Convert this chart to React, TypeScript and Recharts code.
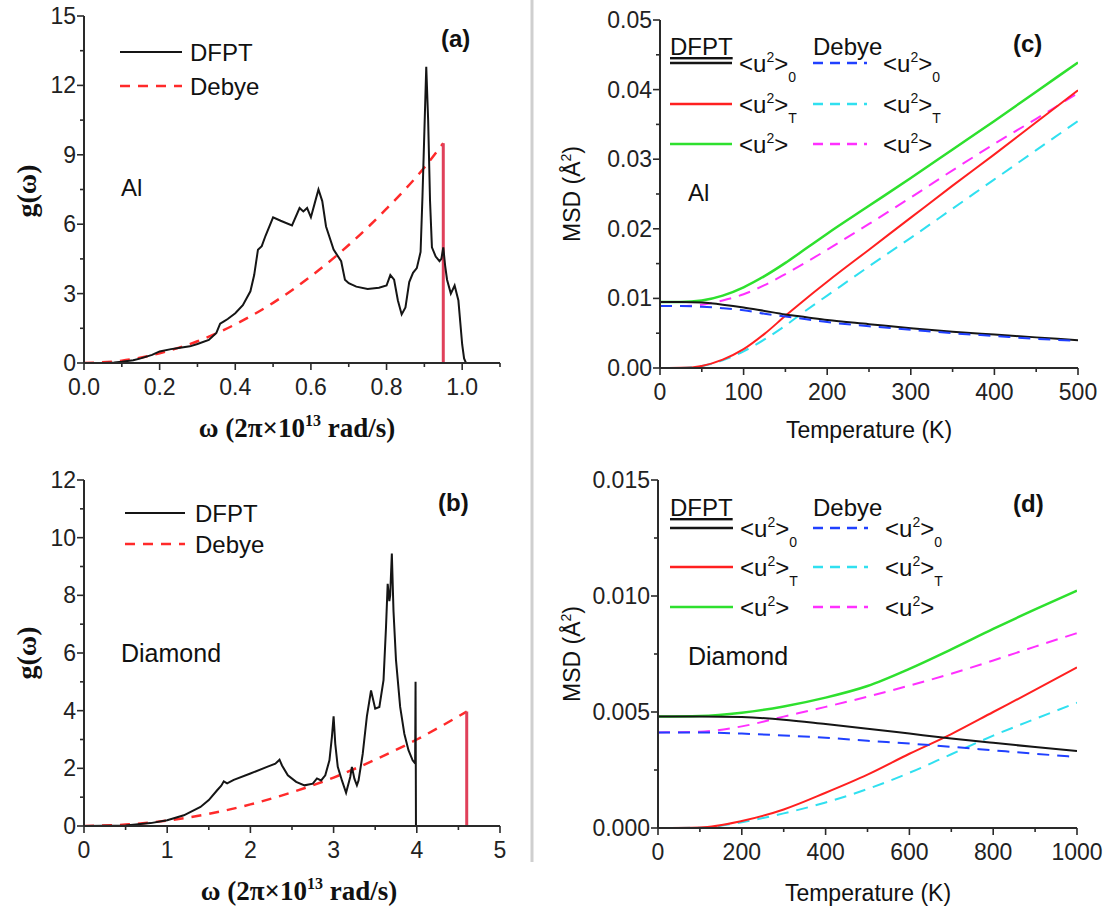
import React from 'react';
import { LineChart, Line, XAxis, YAxis } from 'recharts';

const SANS = "'Liberation Sans', Arial, Helvetica, sans-serif";
const SERIF = "'Liberation Serif', 'Times New Roman', serif";
const AXIS = '#2a2a2a';

// ---------- Panel (a): Al phonon DOS ----------
const aDfptW = [0, 0.05, 0.08, 0.1, 0.13, 0.15, 0.18, 0.2, 0.23, 0.25, 0.28, 0.3, 0.33, 0.35, 0.36, 0.37, 0.38, 0.4, 0.42, 0.44, 0.45, 0.46, 0.47, 0.48, 0.5, 0.52, 0.55, 0.57, 0.58, 0.59, 0.6, 0.61, 0.62, 0.63, 0.64, 0.66, 0.68, 0.69, 0.7, 0.72, 0.75, 0.78, 0.8, 0.81, 0.82, 0.83, 0.84, 0.85, 0.86, 0.87, 0.88, 0.89, 0.895, 0.9, 0.905, 0.91, 0.915, 0.92, 0.93, 0.94, 0.945, 0.95, 0.955, 0.96, 0.97, 0.98, 0.99, 1.0, 1.005, 1.01];
const aDfptG = [0, 0, 0.02, 0.05, 0.12, 0.2, 0.35, 0.5, 0.6, 0.65, 0.72, 0.82, 1.0, 1.3, 1.7, 1.8, 1.9, 2.15, 2.5, 3.1, 3.8, 4.9, 5.05, 5.5, 6.3, 6.15, 5.95, 6.7, 6.55, 6.7, 6.3, 6.9, 7.5, 7.0, 5.9, 4.9, 4.4, 3.6, 3.45, 3.3, 3.2, 3.25, 3.35, 3.8, 3.6, 2.7, 2.1, 2.4, 3.5, 3.9, 4.1, 4.8, 7.2, 10.0, 12.8, 10.5, 7.0, 5.0, 4.6, 4.4, 4.5, 5.0, 4.2, 3.6, 3.0, 3.35, 2.7, 0.8, 0.2, 0];
const aDebyeW = [0, 0.1, 0.2, 0.3, 0.4, 0.5, 0.6, 0.7, 0.8, 0.9, 0.95];
const aDebyeG = [0, 0.1, 0.42, 0.94, 1.67, 2.6, 3.75, 5.1, 6.67, 8.45, 9.5];
const aCutW = [0.95, 0.95];
const aCutG = [9.5, 0];
const aXMajors = [0, 0.2, 0.4, 0.6, 0.8, 1.0];
const aXMinors = [0.1, 0.3, 0.5, 0.7, 0.9, 1.1];
const aXLabels = ['0.0', '0.2', '0.4', '0.6', '0.8', '1.0'];
const aYMajors = [0, 3, 6, 9, 12, 15];
const aYMinors = [1.5, 4.5, 7.5, 10.5, 13.5];
const aYLabels = ['0', '3', '6', '9', '12', '15'];

// ---------- Panel (b): Diamond phonon DOS ----------
const bDfptW = [0, 0.5, 0.8, 1.0, 1.2, 1.4, 1.5, 1.6, 1.65, 1.68, 1.72, 1.8, 2.0, 2.2, 2.3, 2.35, 2.38, 2.45, 2.55, 2.65, 2.75, 2.8, 2.85, 2.9, 2.95, 2.98, 3.0, 3.02, 3.05, 3.1, 3.15, 3.2, 3.22, 3.25, 3.28, 3.3, 3.35, 3.4, 3.45, 3.5, 3.55, 3.6, 3.63, 3.65, 3.67, 3.68, 3.7, 3.72, 3.75, 3.8, 3.85, 3.9, 3.95, 3.98, 3.985, 3.99];
const bDfptG = [0, 0.02, 0.1, 0.2, 0.37, 0.66, 0.9, 1.24, 1.4, 1.55, 1.48, 1.6, 1.82, 2.05, 2.16, 2.3, 2.1, 1.76, 1.53, 1.41, 1.47, 1.65, 1.58, 1.76, 2.28, 3.1, 3.8, 2.85, 2.05, 1.58, 1.15, 1.7, 2.05, 1.64, 1.41, 1.58, 2.5, 3.8, 4.7, 4.07, 4.13, 5.06, 6.9, 8.4, 7.8, 8.0, 9.45, 7.45, 5.75, 4.13, 3.2, 2.63, 2.28, 2.17, 5.0, 0];
const bDebyeW = [0, 0.5, 1, 1.5, 2, 2.5, 3, 3.5, 4, 4.6];
const bDebyeG = [0, 0.05, 0.19, 0.42, 0.75, 1.17, 1.68, 2.3, 3.0, 3.97];
const bCutW = [4.6, 4.6];
const bCutG = [3.97, 0];
const bXMajors = [0, 1, 2, 3, 4, 5];
const bXMinors = [0.5, 1.5, 2.5, 3.5, 4.5];
const bXLabels = ['0', '1', '2', '3', '4', '5'];
const bYMajors = [0, 2, 4, 6, 8, 10, 12];
const bYMinors = [1, 3, 5, 7, 9, 11];
const bYLabels = ['0', '2', '4', '6', '8', '10', '12'];

// ---------- Panel (c): Al MSD ----------
const cTemp = [0, 25, 50, 75, 100, 125, 150, 175, 200, 250, 300, 350, 400, 450, 500];
const cDfptU0 = [0.0095, 0.0095, 0.0094, 0.0091, 0.0087, 0.0082, 0.0077, 0.0073, 0.0069, 0.0063, 0.0057, 0.0052, 0.0048, 0.0044, 0.004];
const cDfptUT = [0, 0.00002, 0.0003, 0.0012, 0.0027, 0.0049, 0.0075, 0.01, 0.0124, 0.017, 0.0216, 0.0262, 0.0307, 0.0353, 0.0399];
const cDfptU = [0.0095, 0.0095, 0.0097, 0.0104, 0.0116, 0.0132, 0.0151, 0.0172, 0.0193, 0.0233, 0.0273, 0.0314, 0.0355, 0.0397, 0.0439];
const cDebyeU0 = [0.0089, 0.0089, 0.0088, 0.0086, 0.0083, 0.0078, 0.0074, 0.007, 0.0066, 0.006, 0.0055, 0.005, 0.0046, 0.0042, 0.0039];
const cDebyeUT = [0, 0, 0.0003, 0.0011, 0.0024, 0.0041, 0.0061, 0.0083, 0.0104, 0.0146, 0.0187, 0.0229, 0.0271, 0.0313, 0.0355];
const cDebyeU = [0.0089, 0.0089, 0.0091, 0.0097, 0.0106, 0.0119, 0.0135, 0.0152, 0.017, 0.0207, 0.0245, 0.0284, 0.0322, 0.0358, 0.0395];
const cXMajors = [0, 100, 200, 300, 400, 500];
const cXMinors = [50, 150, 250, 350, 450];
const cXLabels = ['0', '100', '200', '300', '400', '500'];
const cYMajors = [0, 0.01, 0.02, 0.03, 0.04, 0.05];
const cYMinors = [0.005, 0.015, 0.025, 0.035, 0.045];
const cYLabels = ['0.00', '0.01', '0.02', '0.03', '0.04', '0.05'];

// ---------- Panel (d): Diamond MSD ----------
const dTemp = [0, 100, 200, 300, 400, 500, 600, 700, 800, 900, 1000];
const dDfptU0 = [0.00481, 0.00481, 0.00478, 0.00467, 0.00448, 0.00428, 0.00407, 0.00386, 0.00367, 0.00349, 0.00332];
const dDfptUT = [0, 0.00002, 0.0003, 0.0008, 0.00152, 0.0023, 0.0032, 0.00405, 0.005, 0.00595, 0.00692];
const dDfptU = [0.00481, 0.00483, 0.00497, 0.00524, 0.00562, 0.00612, 0.00686, 0.00770, 0.00858, 0.00942, 0.01023];
const dDebyeU0 = [0.00412, 0.00412, 0.00407, 0.00399, 0.00389, 0.00376, 0.00364, 0.0035, 0.00335, 0.0032, 0.00306];
const dDebyeUT = [0, 0.00001, 0.00025, 0.00063, 0.0011, 0.00168, 0.00238, 0.00318, 0.00398, 0.0047, 0.0054];
const dDebyeU = [0.00412, 0.00415, 0.00438, 0.0048, 0.00522, 0.00566, 0.00614, 0.00665, 0.00722, 0.00782, 0.0084];
const dXMajors = [0, 200, 400, 600, 800, 1000];
const dXMinors = [100, 300, 500, 700, 900];
const dXLabels = ['0', '200', '400', '600', '800', '1000'];
const dYMajors = [0, 0.005, 0.01, 0.015];
const dYMinors = [0.0025, 0.0075, 0.0125];
const dYLabels = ['0.000', '0.005', '0.010', '0.015'];

const legendDos = ['DFPT', 'Debye'];
const legendMsdHeads = ['DFPT', 'Debye'];
const legendMsdSubs = ['0', 'T', ''];

// colours
const C_BLACK = '#151515';
const C_RED = '#ff2020';
const C_GREEN = '#2ee02e';
const C_BLUE = '#2040ff';
const C_CYAN = '#30e0f0';
const C_MAG = '#ff30ff';
const C_DEBYE = '#ff2a2a';
const C_CUT = '#e0405a';

const zip = (xs: number[], ys: number[]) => xs.map((x, i) => ({ x, y: ys[i] }));
const near = (a: number, b: number) => Math.abs(a - b) < 1e-9;

function makeXTick(majors: number[], labels: string[]) {
  return (p: any) => {
    const v = Number(p.payload?.value);
    const i = majors.findIndex((m) => near(m, v));
    const major = i >= 0;
    return (
      <g>
        <line x1={p.x} x2={p.x} y1={p.y} y2={p.y + (major ? 7 : 4)} stroke={AXIS} strokeWidth={1.6} />
        {major && (
          <text x={p.x} y={p.y + 32} textAnchor="middle" fontSize={23} fontFamily={SANS} fill="#222">
            {labels[i]}
          </text>
        )}
      </g>
    );
  };
}

function makeYTick(majors: number[], labels: string[]) {
  return (p: any) => {
    const v = Number(p.payload?.value);
    const i = majors.findIndex((m) => near(m, v));
    const major = i >= 0;
    return (
      <g>
        <line x1={p.x} x2={p.x - (major ? 7 : 4)} y1={p.y} y2={p.y} stroke={AXIS} strokeWidth={1.6} />
        {major && (
          <text x={p.x - 8} y={p.y + 8} textAnchor="end" fontSize={23} fontFamily={SANS} fill="#222">
            {labels[i]}
          </text>
        )}
      </g>
    );
  };
}

type Series = { data: { x: number; y: number }[]; color: string; dash?: string; width?: number; smooth?: boolean };

type PanelProps = {
  left: number; top: number; width: number; height: number;
  mt: number; mr: number; yW: number; xH: number;
  xDomain: [number, number]; yDomain: [number, number];
  xMajors: number[]; xMinors: number[]; xLabels: string[];
  yMajors: number[]; yMinors: number[]; yLabels: string[];
  series: Series[];
};

function Panel(p: PanelProps) {
  const axisLine = { stroke: AXIS, strokeWidth: 2 };
  return (
    <div style={{ position: 'absolute', left: p.left, top: p.top, width: p.width, height: p.height }}>
      <LineChart width={p.width} height={p.height} margin={{ top: p.mt, right: p.mr, left: 0, bottom: 0 }}>
        <XAxis
          dataKey="x" type="number" domain={p.xDomain} allowDataOverflow
          ticks={[...p.xMajors, ...p.xMinors]} interval={0}
          tick={makeXTick(p.xMajors, p.xLabels)} tickLine={false} tickSize={0} tickMargin={0}
          height={p.xH} axisLine={axisLine}
        />
        <XAxis xAxisId="top" orientation="top" dataKey="x" type="number" domain={p.xDomain}
          tick={false} tickLine={false} height={0} axisLine={axisLine} />
        <YAxis
          type="number" domain={p.yDomain} allowDataOverflow
          ticks={[...p.yMajors, ...p.yMinors]} interval={0}
          tick={makeYTick(p.yMajors, p.yLabels)} tickLine={false} tickSize={0} tickMargin={0}
          width={p.yW} axisLine={axisLine}
        />
        <YAxis yAxisId="right" orientation="right" type="number" domain={p.yDomain}
          tick={false} tickLine={false} width={0} axisLine={axisLine} />
        {p.series.map((s, i) => (
          <Line
            key={i} data={s.data} dataKey="y" type={s.smooth ? 'monotone' : 'linear'} stroke={s.color}
            strokeWidth={s.width ?? 2} strokeDasharray={s.dash} dot={false}
            isAnimationActive={false} activeDot={false}
          />
        ))}
      </LineChart>
    </div>
  );
}

function U2({ x, y, sub }: { x: number; y: number; sub: string }) {
  return (
    <text x={x} y={y} fontSize={24} fontFamily={SANS} fill="#111">
      &lt;u<tspan dy={-10} fontSize={14}>2</tspan>
      <tspan dy={10}>&gt;</tspan>
      {sub ? <tspan dy={10} fontSize={14}>{sub}</tspan> : null}
    </text>
  );
}

function MsdLegend({ headY, rows, x1, x2, tx, dx1, dx2, dtx }: { headY: number; rows: number[]; x1: number; x2: number; tx: number; dx1: number; dx2: number; dtx: number }) {
  const solid = [C_BLACK, C_RED, C_GREEN];
  const dashed = [C_BLUE, C_CYAN, C_MAG];
  return (
    <g>
      <text x={x1} y={headY + 8} fontSize={24} fontFamily={SANS} fill="#111" textDecoration="underline">{legendMsdHeads[0]}</text>
      <text x={dx1} y={headY + 8} fontSize={24} fontFamily={SANS} fill="#111">{legendMsdHeads[1]}</text>
      {rows.map((ry, i) => (
        <g key={i}>
          <line x1={x1} x2={x2} y1={ry} y2={ry} stroke={solid[i]} strokeWidth={2.5} />
          <U2 x={tx} y={ry + 9} sub={legendMsdSubs[i]} />
          <line x1={dx1} x2={dx2} y1={ry} y2={ry} stroke={dashed[i]} strokeWidth={2.5} strokeDasharray="10 7" />
          <U2 x={dtx} y={ry + 9} sub={legendMsdSubs[i]} />
        </g>
      ))}
    </g>
  );
}

function DosLegend({ x1, x2, tx, y1, y2 }: { x1: number; x2: number; tx: number; y1: number; y2: number }) {
  return (
    <g>
      <line x1={x1} x2={x2} y1={y1} y2={y1} stroke={C_BLACK} strokeWidth={2} />
      <text x={tx} y={y1 + 9} fontSize={24} fontFamily={SANS} fill="#111">{legendDos[0]}</text>
      <line x1={x1} x2={x2} y1={y2} y2={y2} stroke={C_DEBYE} strokeWidth={2.5} strokeDasharray="10 8" />
      <text x={tx} y={y2 + 9} fontSize={24} fontFamily={SANS} fill="#111">{legendDos[1]}</text>
    </g>
  );
}

function OmegaTitle({ x, y }: { x: number; y: number }) {
  return (
    <text x={x} y={y} textAnchor="middle" fontSize={27} fontFamily={SERIF} fontWeight="bold" fill="#111">
      ω (2π×10<tspan dy={-11} fontSize={16}>13</tspan>
      <tspan dy={11}> rad/s)</tspan>
    </text>
  );
}

function MsdTitle({ cx, cy }: { cx: number; cy: number }) {
  return (
    <text transform={`translate(${cx},${cy}) rotate(-90)`} textAnchor="middle" dy="0.35em" fontSize={23} fontFamily={SANS} fill="#111">
      MSD (Å<tspan dy={-9} fontSize={14}>2</tspan>
      <tspan dy={9}>)</tspan>
    </text>
  );
}

export default function App() {
  return (
    <div style={{ position: 'absolute', left: 0, top: 0, width: 1112, height: 916, background: '#fff', overflow: 'hidden' }}>
      <Panel
        left={0} top={0} width={540} height={440} mt={16} mr={40} yW={84} xH={77}
        xDomain={[0, 1.1]} yDomain={[0, 15]}
        xMajors={aXMajors} xMinors={aXMinors} xLabels={aXLabels}
        yMajors={aYMajors} yMinors={aYMinors} yLabels={aYLabels}
        series={[
          { data: zip(aDebyeW, aDebyeG), color: C_DEBYE, dash: '10 8', width: 2.5, smooth: true },
          { data: zip(aCutW, aCutG), color: C_CUT, width: 3 },
          { data: zip(aDfptW, aDfptG), color: C_BLACK, width: 2 },
        ]}
      />
      <Panel
        left={0} top={460} width={540} height={456} mt={20} mr={40} yW={84} xH={90}
        xDomain={[0, 5]} yDomain={[0, 12]}
        xMajors={bXMajors} xMinors={bXMinors} xLabels={bXLabels}
        yMajors={bYMajors} yMinors={bYMinors} yLabels={bYLabels}
        series={[
          { data: zip(bDebyeW, bDebyeG), color: C_DEBYE, dash: '10 8', width: 2.5, smooth: true },
          { data: zip(bCutW, bCutG), color: C_CUT, width: 3 },
          { data: zip(bDfptW, bDfptG), color: C_BLACK, width: 2 },
        ]}
      />
      <Panel
        left={560} top={0} width={552} height={440} mt={20} mr={34} yW={100} xH={72}
        xDomain={[0, 500]} yDomain={[0, 0.05]}
        xMajors={cXMajors} xMinors={cXMinors} xLabels={cXLabels}
        yMajors={cYMajors} yMinors={cYMinors} yLabels={cYLabels}
        series={[
          { data: zip(cTemp, cDebyeU), color: C_MAG, dash: '12 8', width: 2, smooth: true },
          { data: zip(cTemp, cDebyeUT), color: C_CYAN, dash: '12 8', width: 2, smooth: true },
          { data: zip(cTemp, cDfptU), color: C_GREEN, width: 2.5, smooth: true },
          { data: zip(cTemp, cDfptUT), color: C_RED, width: 2, smooth: true },
          { data: zip(cTemp, cDfptU0), color: C_BLACK, width: 2, smooth: true },
          { data: zip(cTemp, cDebyeU0), color: C_BLUE, dash: '12 8', width: 2, smooth: true },
        ]}
      />
      <Panel
        left={560} top={460} width={552} height={456} mt={20} mr={35} yW={98} xH={88}
        xDomain={[0, 1000]} yDomain={[0, 0.015]}
        xMajors={dXMajors} xMinors={dXMinors} xLabels={dXLabels}
        yMajors={dYMajors} yMinors={dYMinors} yLabels={dYLabels}
        series={[
          { data: zip(dTemp, dDebyeU), color: C_MAG, dash: '12 8', width: 2, smooth: true },
          { data: zip(dTemp, dDebyeUT), color: C_CYAN, dash: '12 8', width: 2, smooth: true },
          { data: zip(dTemp, dDfptU), color: C_GREEN, width: 2.5, smooth: true },
          { data: zip(dTemp, dDfptUT), color: C_RED, width: 2, smooth: true },
          { data: zip(dTemp, dDfptU0), color: C_BLACK, width: 2, smooth: true },
          { data: zip(dTemp, dDebyeU0), color: C_BLUE, dash: '12 8', width: 2, smooth: true },
        ]}
      />
      <svg width={1112} height={916} style={{ position: 'absolute', left: 0, top: 0, pointerEvents: 'none' }}>
        <line x1={532} x2={532} y1={0} y2={862} stroke="#cfcfcf" strokeWidth={3} />

        {/* panel a */}
        <DosLegend x1={120} x2={182} tx={190} y1={52} y2={86} />
        <text x={121} y={196} fontSize={24} fontFamily={SANS} fill="#111">Al</text>
        <text x={441} y={47} fontSize={24} fontFamily={SANS} fontWeight="bold" fill="#111">(a)</text>
        <text transform="translate(28,191) rotate(-90)" textAnchor="middle" dy="0.3em" fontSize={28} fontFamily={SERIF} fontWeight="bold" fill="#111">g(ω)</text>
        <OmegaTitle x={297} y={437} />

        {/* panel b */}
        <DosLegend x1={125} x2={185} tx={195} y1={513} y2={544} />
        <text x={121} y={662} fontSize={25} fontFamily={SANS} fill="#111">Diamond</text>
        <text x={438} y={511} fontSize={24} fontFamily={SANS} fontWeight="bold" fill="#111">(b)</text>
        <text transform="translate(28,653) rotate(-90)" textAnchor="middle" dy="0.3em" fontSize={28} fontFamily={SERIF} fontWeight="bold" fill="#111">g(ω)</text>
        <OmegaTitle x={299} y={900} />

        {/* panel c */}
        <MsdLegend headY={47} rows={[63, 104, 144]} x1={670} x2={732} tx={739} dx1={813} dx2={867} dtx={883} />
        <text x={688} y={201} fontSize={24} fontFamily={SANS} fill="#111">Al</text>
        <text x={1013} y={52} fontSize={24} fontFamily={SANS} fontWeight="bold" fill="#111">(c)</text>
        <MsdTitle cx={572} cy={194} />
        <text x={869} y={438} textAnchor="middle" fontSize={23} fontFamily={SANS} fill="#111">Temperature (K)</text>

        {/* panel d */}
        <MsdLegend headY={508} rows={[528, 567, 607]} x1={670} x2={733} tx={740} dx1={813} dx2={868} dtx={885} />
        <text x={688} y={665} fontSize={25} fontFamily={SANS} fill="#111">Diamond</text>
        <text x={1013} y={512} fontSize={24} fontFamily={SANS} fontWeight="bold" fill="#111">(d)</text>
        <MsdTitle cx={572} cy={654} />
        <text x={868} y={901} textAnchor="middle" fontSize={23} fontFamily={SANS} fill="#111">Temperature (K)</text>
      </svg>
    </div>
  );
}
